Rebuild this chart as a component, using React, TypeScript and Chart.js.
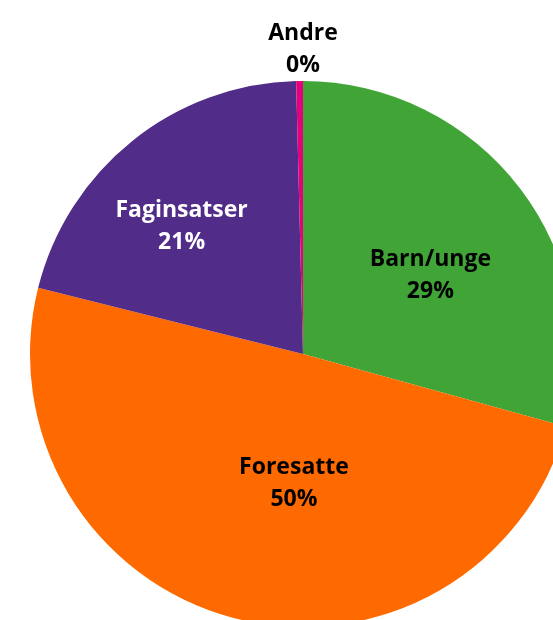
import React, { useEffect, useRef } from "react";
import { Chart, registerables } from "chart.js";

Chart.register(...registerables);

const categories = ["Barn/unge", "Foresatte", "Faginsatser", "Andre"];
const values = [29.3, 49.6, 20.7, 0.4];
const colors = ["#40a437", "#ff6a00", "#512c88", "#e5007d"];
const labelColors = ["#000000", "#000000", "#ffffff", "#000000"];
// label placement: radial fraction of outer radius, angular fraction within slice
const labelRadius = [0.55, 0.47, 0.65, 1.12];
const labelAngleFrac = [0.55, 0.44, 0.44, 1.0];

const labelPlugin = {
  id: "sliceLabels",
  afterDatasetsDraw(chart: any) {
    const ctx = chart.ctx;
    const meta = chart.getDatasetMeta(0);
    const total = values.reduce((a, b) => a + b, 0);
    ctx.save();
    ctx.font = '700 23px "Open Sans", "DejaVu Sans", sans-serif';
    ctx.textAlign = "center";
    ctx.textBaseline = "alphabetic";
    meta.data.forEach((arc: any, i: number) => {
      const { x, y, startAngle, endAngle, outerRadius } = arc.getProps(
        ["x", "y", "startAngle", "endAngle", "outerRadius"],
        true
      );
      const a = startAngle + (endAngle - startAngle) * labelAngleFrac[i];
      const r = outerRadius * labelRadius[i];
      const cx = x + Math.cos(a) * r;
      const cy = y + Math.sin(a) * r;
      const pct = Math.round((values[i] / total) * 100) + "%";
      ctx.fillStyle = labelColors[i];
      ctx.fillText(categories[i], cx, cy - 8);
      ctx.fillText(pct, cx, cy + 24);
    });
    ctx.restore();
  },
};

export default function App() {
  const ref = useRef<HTMLCanvasElement>(null);
  useEffect(() => {
    if (!ref.current) return;
    const chart = new Chart(ref.current, {
      type: "pie",
      data: {
        labels: categories,
        datasets: [
          {
            data: values,
            backgroundColor: colors,
            borderWidth: 0,
          },
        ],
      },
      options: {
        animation: false,
        responsive: false,
        layout: { padding: { left: 30, right: 30, top: 81, bottom: 81 } },
        plugins: {
          legend: { display: false },
          tooltip: { enabled: false },
        },
      },
      plugins: [labelPlugin],
    });
    return () => chart.destroy();
  }, []);
  return (
    <div
      style={{
        position: "fixed",
        left: 0,
        top: 0,
        width: 553,
        height: 620,
        overflow: "hidden",
        background: "#ffffff",
      }}
    >
      <canvas
        ref={ref}
        width={606}
        height={708}
        style={{ position: "absolute", left: 0, top: 0, width: 606, height: 708 }}
      />
    </div>
  );
}
